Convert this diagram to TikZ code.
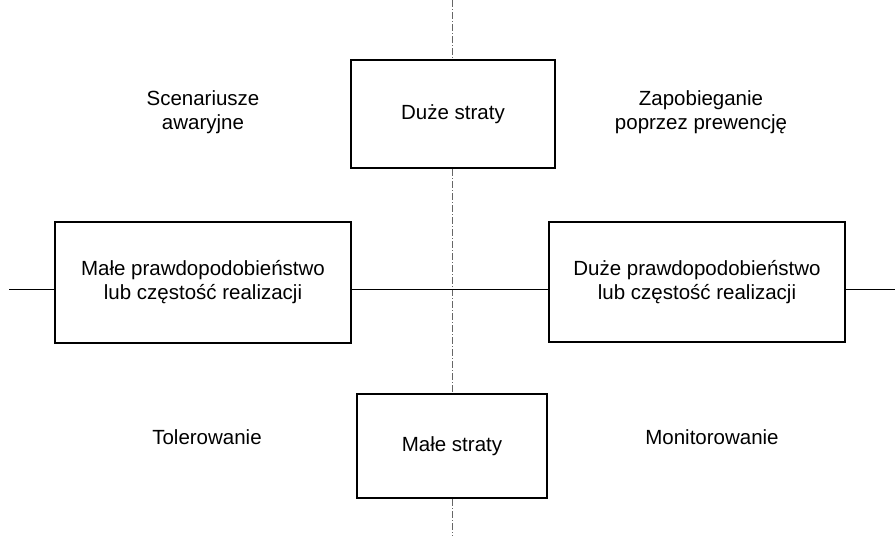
\documentclass[tikz,border=0pt]{standalone}
\usepackage{fontspec}
\setmainfont{Liberation Sans}
\begin{document}
\begin{tikzpicture}[x=1pt,y=-1pt,
  box/.style={draw,line width=2.6pt,rectangle,inner sep=0pt,align=center,
    font=\fontsize{20.5}{24}\selectfont},
  lbl/.style={align=center,inner sep=0pt,font=\fontsize{20.5}{24}\selectfont},
  axisv/.style={gray!80!black,line width=0.7pt,dash pattern=on 7pt off 2pt on 1pt off 2pt},
  axish/.style={black,line width=0.9pt}]
\useasboundingbox (0,0) rectangle (895,536);
\node[box,minimum width=204pt,minimum height=108pt] (T) at (453,114) {Duże straty};
\node[box,minimum width=296pt,minimum height=121pt] (L) at (203,282.5) {Małe prawdopodobieństwo\\lub częstość realizacji};
\node[box,minimum width=296pt,minimum height=120pt] (R) at (697,282) {Duże prawdopodobieństwo\\lub częstość realizacji};
\node[box,minimum width=190pt,minimum height=104pt] (B) at (452,446) {Małe straty};
\node[lbl] (s1) at (203,112) {Scenariusze\\awaryjne};
\node[lbl] (s2) at (701,112) {Zapobieganie\\poprzez prewencję};
\node[lbl] (s3) at (207,437) {Tolerowanie};
\node[lbl] (s4) at (712,437) {Monitorowanie};
\coordinate (vtop) at (452,0);
\coordinate (vbot) at (452,536);
\coordinate (hl) at (9,289);
\coordinate (hr) at (895,289);
\draw[axisv] (vtop) -- (vtop |- T.north);
\draw[axisv] (vtop |- T.south) -- (vtop |- B.north);
\draw[axisv] (vbot |- B.south) -- (vbot);
\draw[axish] (hl) -- (hl -| L.west);
\draw[axish] (hl -| L.east) -- (hl -| R.west);
\draw[axish] (hr -| R.east) -- (hr);
\end{tikzpicture}
\end{document}
